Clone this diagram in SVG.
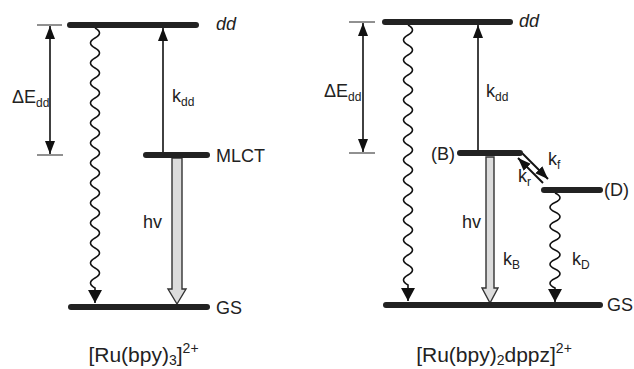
<svg xmlns="http://www.w3.org/2000/svg" width="634" height="369" viewBox="0 0 634 369">
<style>
text{font-family:"Liberation Sans",Arial,sans-serif;fill:#222;font-size:18px}
.sub{font-size:12px}
.big{font-size:21px}
.bsub{font-size:14px}
.lvl{stroke:#222;stroke-width:6;stroke-linecap:round;fill:none}
.tick{stroke:#222;stroke-width:1;fill:none}
.arr{stroke:#111;stroke-width:1.6;fill:none}
.wave{stroke:#111;stroke-width:1.6;fill:none}
.hollow{fill:#dcdcdc;stroke:#333;stroke-width:1.4;stroke-linejoin:miter}
</style>
<defs>
<marker id="ah" markerUnits="userSpaceOnUse" markerWidth="14" markerHeight="10" refX="13" refY="5" orient="auto-start-reverse">
<path d="M0,0 L13,5 L0,10 z" fill="#111"/>
</marker>
<marker id="ahw" markerUnits="userSpaceOnUse" markerWidth="14" markerHeight="14" refX="13" refY="7" orient="auto">
<path d="M0,0 L13,7 L0,14 z" fill="#111"/>
</marker>
</defs>

<g id="connectors">
<line class="tick" x1="37" y1="25" x2="62" y2="25"/>
<line class="tick" x1="37" y1="155" x2="63" y2="155"/>
<line class="arr" x1="50" y1="26" x2="50" y2="154" marker-start="url(#ah)" marker-end="url(#ah)"/>
<path class="wave" d="M95,28 q9,5 0,10 t0,10 t0,10 t0,10 t0,10 t0,10 t0,10 t0,10 t0,10 t0,10 t0,10 t0,10 t0,10 t0,10 t0,10 t0,10 t0,10 t0,10 t0,10 t0,10 t0,10 t0,10 t0,10 t0,10 t0,10 t0,10 l0,15" marker-end="url(#ahw)"/>
<line class="arr" x1="163" y1="153" x2="163" y2="28" marker-end="url(#ah)"/>
<polygon class="hollow" points="172,158 182,158 182,289 186,289 177,304 168,289 172,289"/>
<line class="tick" x1="349" y1="22" x2="375" y2="22"/>
<line class="tick" x1="349" y1="153" x2="375" y2="153"/>
<line class="arr" x1="363" y1="23" x2="363" y2="152" marker-start="url(#ah)" marker-end="url(#ah)"/>
<path class="wave" d="M408,25 q9,5 0,10 t0,10 t0,10 t0,10 t0,10 t0,10 t0,10 t0,10 t0,10 t0,10 t0,10 t0,10 t0,10 t0,10 t0,10 t0,10 t0,10 t0,10 t0,10 t0,10 t0,10 t0,10 t0,10 t0,10 t0,10 t0,10 l0,16" marker-end="url(#ahw)"/>
<line class="arr" x1="478" y1="151" x2="478" y2="25" marker-end="url(#ah)"/>
<polygon class="hollow" points="486,157 494,157 494,288 498,288 490,303 482,288 486,288"/>
<path class="wave" d="M555,193 q10,4.75 0,9.5 t0,9.5 t0,9.5 t0,9.5 t0,9.5 t0,9.5 t0,9.5 t0,9.5 t0,9.5 t0,9.5 l0,14" marker-end="url(#ahw)"/>
<line class="arr" style="stroke-width:2" x1="522" y1="153" x2="548" y2="179" marker-end="url(#ah)"/>
<line class="arr" style="stroke-width:2" x1="543" y1="183" x2="518" y2="158" marker-end="url(#ah)"/>
</g>

<g id="left-dd"><line class="lvl" x1="70" y1="25" x2="196" y2="25"/><text x="216" y="30" font-style="italic">dd</text></g>
<g id="left-mlct"><line class="lvl" x1="146" y1="155" x2="207" y2="155"/><text x="216" y="162">MLCT</text></g>
<g id="left-gs"><line class="lvl" x1="71" y1="307" x2="207" y2="307"/><text x="216" y="314">GS</text></g>
<g id="left-labels">
<text x="12" y="103">ΔE<tspan class="sub" dy="4">dd</tspan></text>
<text x="172" y="102">k<tspan class="sub" dy="4">dd</tspan></text>
<text x="143" y="228">hv</text>
<text class="big" x="143.5" y="362" text-anchor="middle">[Ru(bpy)<tspan class="bsub" dy="3">3</tspan><tspan dy="-3">]</tspan><tspan class="bsub" dy="-9">2+</tspan></text>
</g>

<g id="right-dd"><line class="lvl" x1="385" y1="22" x2="510" y2="22"/><text x="519" y="27" font-style="italic">dd</text></g>
<g id="right-b"><line class="lvl" x1="460" y1="153" x2="520" y2="153"/><text x="431" y="160">(B)</text></g>
<g id="right-d"><line class="lvl" x1="544" y1="190" x2="600" y2="190"/><text x="604" y="196">(D)</text></g>
<g id="right-gs"><line class="lvl" x1="386" y1="305" x2="600" y2="305"/><text x="607" y="311">GS</text></g>
<g id="right-labels">
<text x="324" y="97">ΔE<tspan class="sub" dy="4">dd</tspan></text>
<text x="486" y="97">k<tspan class="sub" dy="4">dd</tspan></text>
<text x="548" y="165">k<tspan class="sub" dy="4">f</tspan></text>
<text x="518" y="182">k<tspan class="sub" dy="4">r</tspan></text>
<text x="462" y="228">hv</text>
<text x="503" y="265">k<tspan class="sub" dy="4">B</tspan></text>
<text x="572" y="265">k<tspan class="sub" dy="4">D</tspan></text>
<text class="big" x="494" y="362" text-anchor="middle">[Ru(bpy)<tspan class="bsub" dy="3">2</tspan><tspan dy="-3">dppz]</tspan><tspan class="bsub" dy="-9">2+</tspan></text>
</g>
</svg>
